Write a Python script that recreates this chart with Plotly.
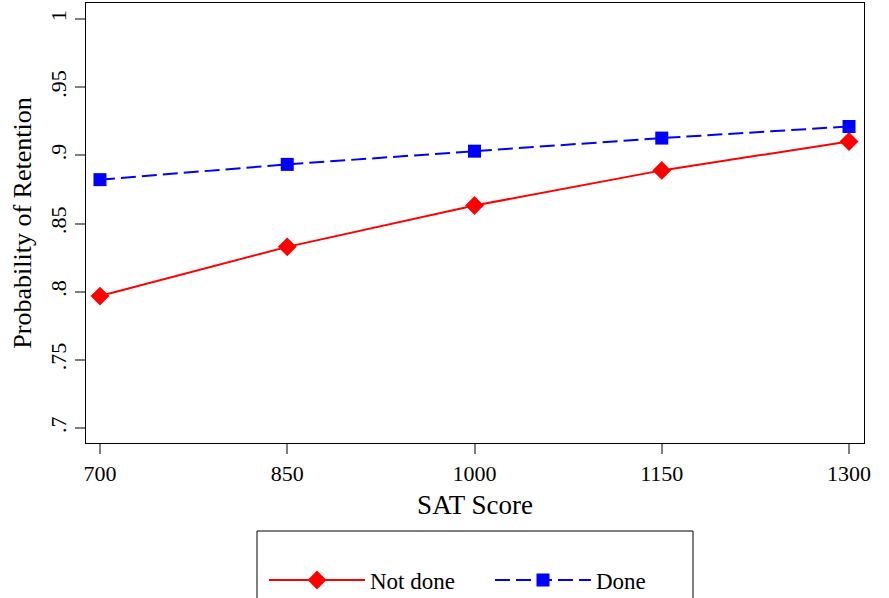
import plotly.graph_objects as go

sat = [700, 850, 1000, 1150, 1300]
not_done = [0.7968, 0.8329, 0.8632, 0.8890, 0.9102]
done = [0.8822, 0.8934, 0.9031, 0.9127, 0.9212]
y_ticks = [0.7, 0.75, 0.8, 0.85, 0.9, 0.95, 1.0]
y_tick_text = [".7", ".75", ".8", ".85", ".9", ".95", "1"]
x_ticks = [700, 850, 1000, 1150, 1300]

FONT = "Liberation Serif, Times New Roman, serif"

fig = go.Figure()
fig.add_trace(go.Scatter(
    x=sat, y=not_done, name="Not done", mode="lines+markers",
    line=dict(color="#ff0000", width=2),
    marker=dict(symbol="diamond", size=14.5, color="#ff0000"),
))
fig.add_trace(go.Scatter(
    x=sat, y=done, name="Done", mode="lines+markers",
    line=dict(color="#0000ff", width=2, dash="15px,6px"),
    marker=dict(symbol="square", size=13, color="#0000ff"),
))

fig.update_layout(
    width=889, height=598,
    margin=dict(l=86, r=25, t=3, b=155, autoexpand=False),
    paper_bgcolor="white", plot_bgcolor="white",
    font=dict(family=FONT, size=22, color="black"),
    showlegend=True,
    legend=dict(
        orientation="h", xref="container", yref="container",
        x=264 / 889, xanchor="left", y=(598 - 580) / 598, yanchor="middle",
        bgcolor="rgba(0,0,0,0)", borderwidth=0, itemwidth=96, entrywidth=115,
        font=dict(family=FONT, size=23, color="black"),
        traceorder="normal",
    ),
    shapes=[dict(
        type="rect", xref="paper", yref="paper",
        x0=(257 - 86) / 778, x1=(693 - 86) / 778, y0=(443 - 531) / 440, y1=-0.45,
        line=dict(color="black", width=1), fillcolor="rgba(0,0,0,0)", layer="below",
    )],
)

fig.update_xaxes(
    range=[688.8, 1312], tickvals=x_ticks, ticks="outside", ticklen=10,
    tickwidth=1.5, tickcolor="#808080", showgrid=False, zeroline=False,
    showline=True, linecolor="black", linewidth=1.2, mirror=True,
    title=dict(text="SAT Score", font=dict(size=27), standoff=10),
    tickfont=dict(size=22),
)
fig.update_yaxes(
    range=[0.689, 1.0118], tickvals=y_ticks, ticktext=y_tick_text,
    tickangle=-90, ticks="outside", ticklen=10, tickwidth=1.5,
    tickcolor="#808080", showgrid=False, zeroline=False,
    showline=True, linecolor="black", linewidth=1.2, mirror=True,
    title=dict(text="Probability of Retention", font=dict(size=26), standoff=6),
    tickfont=dict(size=22),
)

fig.write_html("out.html")
